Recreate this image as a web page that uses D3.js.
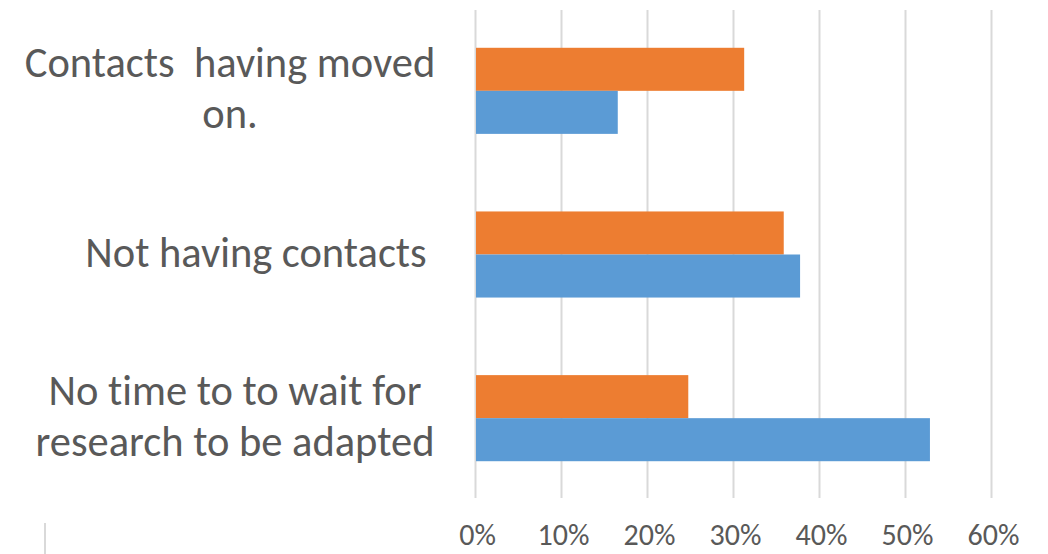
<!DOCTYPE html>
<html>
<head>
<meta charset="utf-8">
<script src="https://cdn.jsdelivr.net/npm/d3@7"></script>
<style>
  html, body { margin: 0; padding: 0; background: #fff; }
  svg { display: block; }
  text { font-family: Carlito, Calibri, "Open Sans", sans-serif; fill: #595959; white-space: pre; font-variant-ligatures: none; }
</style>
</head>
<body>
<svg id="chart" width="1048" height="554"></svg>
<script>
// ---- data ----
const categories = ["Contacts having moved on.", "Not having contacts", "No time to to wait for research to be adapted"];
const categoryLines = [["Contacts  having moved", "on."], ["Not having contacts"], ["No time to to wait for", "research to be adapted"]];
const seriesNames = ["Series2", "Series1"];
const seriesOrange = [0.313, 0.359, 0.248];
const seriesBlue = [0.166, 0.378, 0.529];
const tickValues = [0, 0.1, 0.2, 0.3, 0.4, 0.5, 0.6];
const colors = ["#ED7D31", "#5B9BD5"];

const svg = d3.select("#chart");
const x = d3.scaleLinear().domain([0, 0.6]).range([475, 991]);
const y = d3.scaleBand().domain(categories).range([9, 500]).paddingInner(0.474).paddingOuter(0.237);
const ySub = d3.scaleBand().domain(seriesNames).range([0, y.bandwidth()]);

// gridlines
svg.append("g").selectAll("line").data(tickValues).join("line")
  .attr("x1", d => Math.round(x(d)) + 0.5).attr("x2", d => Math.round(x(d)) + 0.5)
  .attr("y1", 10).attr("y2", 498)
  .attr("stroke", "#d9d9d9").attr("stroke-width", 2);

// bars
const data = categories.map((c, i) => ({c, vals: [seriesOrange[i], seriesBlue[i]]}));
const groups = svg.append("g").selectAll("g").data(data).join("g")
  .attr("transform", d => `translate(0,${y(d.c)})`);
groups.selectAll("rect").data(d => d.vals.map((v, j) => ({v, s: seriesNames[j], j}))).join("rect")
  .attr("x", x(0) + 1)
  .attr("y", d => ySub(d.s))
  .attr("width", d => x(d.v) - x(0) - 1)
  .attr("height", ySub.bandwidth())
  .attr("fill", d => colors[d.j]);

// x axis tick labels
const xAxis = d3.axisBottom(x).tickValues(tickValues).tickFormat(d3.format(".0%")).tickSize(0).tickPadding(0);
const ax = svg.append("g").attr("transform", "translate(2,545)").call(xAxis);
ax.select(".domain").remove();
ax.selectAll("text").attr("font-size", 30).attr("fill", "#595959").attr("y", 0).attr("dy", 0)
  .style("font-family", "Carlito, Calibri, 'Open Sans', sans-serif");

// category labels
const lineH = 51;
const labelX = [230, 256, 235];
categoryLines.forEach((lines, i) => {
  const cy = y(categories[i]) + y.bandwidth() / 2;
  const t = svg.append("text").attr("text-anchor", "middle").attr("font-size", 42.5);
  lines.forEach((ln, k) => {
    t.append("tspan").attr("x", labelX[i])
      .attr("y", cy + 12 + (k - (lines.length - 1) / 2) * lineH)
      .text(ln);
  });
});

// small vertical artifact line bottom-left
svg.append("line").attr("x1", 45).attr("x2", 45).attr("y1", 523).attr("y2", 554)
  .attr("stroke", "#d9d9d9").attr("stroke-width", 2);
</script>
</body>
</html>
